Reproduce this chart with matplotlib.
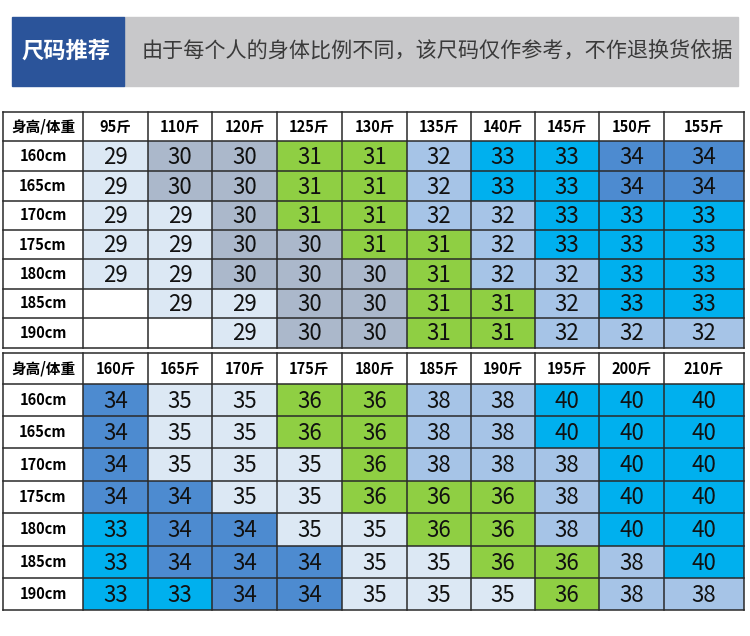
import matplotlib
matplotlib.use("Agg")
import matplotlib.pyplot as plt
from matplotlib.patches import Rectangle

plt.rcParams['font.family'] = ['Noto Sans CJK SC', 'DejaVu Sans']

# Data
heights = ["160cm", "165cm", "170cm", "175cm", "180cm", "185cm", "190cm"]
weights_top = ["95斤", "110斤", "120斤", "125斤", "130斤", "135斤", "140斤", "145斤", "150斤", "155斤"]
weights_bottom = ["160斤", "165斤", "170斤", "175斤", "180斤", "185斤", "190斤", "195斤", "200斤", "210斤"]

sizes_top = [
    [29, 30, 30, 31, 31, 32, 33, 33, 34, 34],
    [29, 30, 30, 31, 31, 32, 33, 33, 34, 34],
    [29, 29, 30, 31, 31, 32, 32, 33, 33, 33],
    [29, 29, 30, 30, 31, 31, 32, 33, 33, 33],
    [29, 29, 30, 30, 30, 31, 32, 32, 33, 33],
    [None, 29, 29, 30, 30, 31, 31, 32, 33, 33],
    [None, None, 29, 30, 30, 31, 31, 32, 32, 32],
]
sizes_bottom = [
    [34, 35, 35, 36, 36, 38, 38, 40, 40, 40],
    [34, 35, 35, 36, 36, 38, 38, 40, 40, 40],
    [34, 35, 35, 35, 36, 38, 38, 38, 40, 40],
    [34, 34, 35, 35, 36, 36, 36, 38, 40, 40],
    [33, 34, 34, 35, 35, 36, 36, 38, 40, 40],
    [33, 34, 34, 34, 35, 35, 36, 36, 38, 40],
    [33, 33, 34, 34, 35, 35, 35, 36, 38, 38],
]

title_tag = "尺码推荐"
title_note = "由于每个人的身体比例不同，该尺码仅作参考，不作退换货依据"

# colour for each size
size_colors = {
    29: "#dce8f4", 35: "#dce8f4",
    30: "#abb8cb",
    31: "#8fcf43", 36: "#8fcf43",
    32: "#a6c4e7", 38: "#a6c4e7",
    33: "#00b0ee", 40: "#00b0ee",
    34: "#4d8bd0",
}

# layout (pixels)
x_edges = [3, 83, 148, 212, 277, 342, 407, 471, 535, 599, 664, 744]
y_top = [112, 141, 171, 201, 230, 259, 289, 318, 348]
y_bottom = [353, 384, 416, 448, 481, 513, 546, 578, 610]

fig = plt.figure(figsize=(7.5, 6.36), dpi=100)
ax = fig.add_axes([0, 0, 1, 1])
ax.set_xlim(0, 750)
ax.set_ylim(636, 0)
ax.axis("off")

# banner
ax.add_patch(Rectangle((124, 17), 614, 69, color="#c8c8ca", zorder=1))
ax.add_patch(Rectangle((12, 17), 112, 69, color="#2b549a", zorder=2))
ax.text(66, 51, title_tag, color="white", fontsize=16, fontweight="bold",
        ha="center", va="center", zorder=3)
ax.text(437, 52, title_note, color="#3a3a3a", fontsize=15.2, fontweight="light",
        ha="center", va="center", zorder=3)


def draw_table(y_edges, col_labels, data):
    # header row
    ax.text((x_edges[0] + x_edges[1]) / 2, (y_edges[0] + y_edges[1]) / 2,
            "身高/体重", fontsize=10.5, fontweight="bold", ha="center", va="center")
    for j, lab in enumerate(col_labels):
        ax.text((x_edges[j + 1] + x_edges[j + 2]) / 2, (y_edges[0] + y_edges[1]) / 2,
                lab, fontsize=10.5, fontweight="bold", ha="center", va="center")
    for i, h in enumerate(heights):
        y0, y1 = y_edges[i + 1], y_edges[i + 2]
        ax.text((x_edges[0] + x_edges[1]) / 2, (y0 + y1) / 2, h,
                fontsize=10.5, fontweight="bold", ha="center", va="center")
        for j, v in enumerate(data[i]):
            x0, x1 = x_edges[j + 1], x_edges[j + 2]
            fc = "white" if v is None else size_colors[v]
            ax.add_patch(Rectangle((x0, y0), x1 - x0, y1 - y0, facecolor=fc,
                                   edgecolor="none", zorder=1))
            if v is not None:
                ax.text((x0 + x1) / 2, (y0 + y1) / 2 + 1, str(v), fontsize=16,
                        fontweight="light", color="#111111",
                        ha="center", va="center", zorder=3)
    # grid lines
    for x in x_edges:
        ax.plot([x, x], [y_edges[0], y_edges[-1]], color="#2a2a2a", lw=1.1, zorder=2)
    for y in y_edges:
        ax.plot([x_edges[0], x_edges[-1]], [y, y], color="#2a2a2a", lw=1.1, zorder=2)


draw_table(y_top, weights_top, sizes_top)
draw_table(y_bottom, weights_bottom, sizes_bottom)

fig.savefig("out.png", dpi=100)
